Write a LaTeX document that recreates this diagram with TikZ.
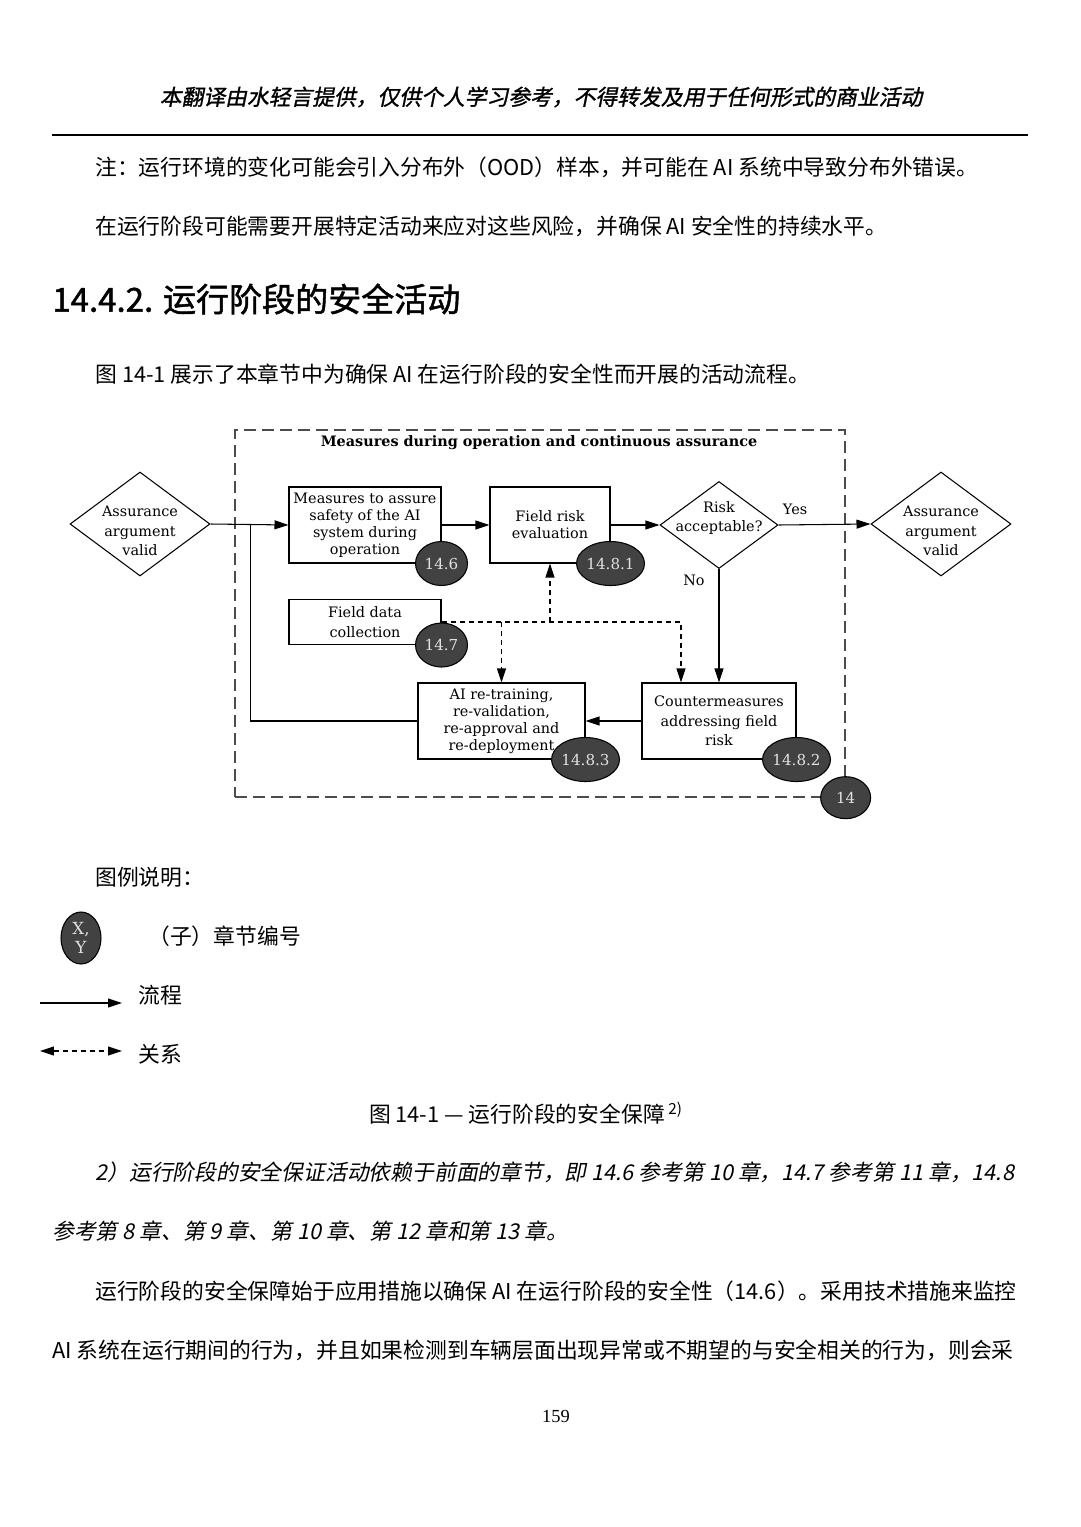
\documentclass[tikz,border=0pt]{standalone}
\usepackage{fontspec}
\setmainfont{DejaVu Serif}
\newfontfamily\cjk{Noto Sans CJK SC}
\newfontfamily\cjkbf[FakeBold=1.4]{Noto Sans CJK SC}
\newfontfamily\cjkhead[FakeBold=1.2,FakeSlant=0.2]{Noto Sans CJK SC}
\newfontfamily\cjkit[FakeSlant=0.2]{Noto Sans CJK SC}
\newfontfamily\pagefont{Liberation Serif}
\usetikzlibrary{arrows.meta, shapes, calc, positioning}
\newcommand\figfont{\fontsize{8.2}{9.7}\selectfont}
\newcommand\bodyfont{\fontsize{12.4}{14}\selectfont}

\begin{document}
\begin{tikzpicture}[x=0.02cm, y=-0.02cm,
    box/.style={draw, line width=0.6pt, align=center, font=\figfont, inner sep=1pt, minimum height=15.2mm},
    decision/.style={draw, diamond, line width=0.6pt, inner sep=0pt},
    dtext/.style={align=center, font=\fontsize{8.2}{11}\selectfont},
    badge/.style={draw, ellipse, fill=black!74, text=black!12, font=\fontsize{8.6}{10}\selectfont, inner sep=0pt, minimum width=10.4mm, minimum height=8.8mm, line width=0.6pt},
    flow/.style={line width=0.6pt, -{Triangle[length=2.8mm,width=1.8mm]}},
    rel/.style={flow, dash pattern=on 1mm off 0.8mm},
    frame/.style={draw=black!70, line width=0.8pt, dash pattern=on 2.4mm off 1.2mm},
    body/.style={font=\bodyfont\cjk, anchor=west, inner sep=0pt}]
  \useasboundingbox[fill=white] (0,0) rectangle (1080,1527);

  % page head
  \node[font=\bodyfont\cjkhead, inner sep=0pt] (head) at (541,97) {本翻译由水轻言提供，仅供个人学习参考，不得转发及用于任何形式的商业活动};
  \draw[line width=0.7pt] (52,135) -- (1028,135);
  \node[body] (note1) at (95,167) {注：运行环境的变化可能会引入分布外（OOD）样本，并可能在 AI 系统中导致分布外错误。};
  \node[body] (note2) at (95,226) {在运行阶段可能需要开展特定活动来应对这些风险，并确保 AI 安全性的持续水平。};
  \node[body, font=\fontsize{18.8}{21}\selectfont\cjkbf] (sec) at (52,299) {14.4.2. 运行阶段的安全活动};
  \node[body] (intro) at (95,374) {图 14-1 展示了本章节中为确保 AI 在运行阶段的安全性而开展的活动流程。};

  % dashed frame
  \node[frame, minimum width=122mm, minimum height=73.4mm, inner sep=0pt] (frame) at (540,613.5) {};
  \node[font=\figfont\bfseries] (ftitle) at (539,443) {Measures during operation and continuous assurance};

  % boxes and decisions
  \node[decision, minimum width=28mm, minimum height=20.8mm,
    label={[dtext, yshift=-1.4mm]center:Assurance\\argument\\valid}] (avL) at (140,524) {};
  \node[decision, minimum width=28mm, minimum height=20.8mm,
    label={[dtext, yshift=-1.4mm]center:Assurance\\argument\\valid}] (avR) at (941,524) {};
  \node[box, minimum width=30.4mm] (msa) at (365,525) {Measures to assure\\safety of the AI\\system during\\operation};
  \node[box, minimum width=24mm] (fre) at (550,525) {Field risk\\evaluation};
  \node[decision, minimum width=23.6mm, minimum height=17.4mm,
    label={[dtext, yshift=1.4mm]center:Risk\\acceptable?}] (risk) at (719,525) {};
  \node[box, minimum width=30.4mm, minimum height=9mm, font=\fontsize{8.2}{11}\selectfont] (fdc) at (365,622) {Field data\\collection};
  \node[box, minimum width=33.4mm] (ai) at (501.5,721) {AI re-training,\\re-validation,\\re-approval and\\re-deployment};
  \node[box, minimum width=30.8mm, font=\fontsize{8.2}{11}\selectfont] (cm) at (719,721) {Countermeasures\\addressing field\\risk};

  % flow
  \path (avL.east) ++(40,0) coordinate (j1);
  \draw[flow] (avL.east) -- (msa.west);
  \draw[line width=0.6pt] (ai.west) -| (j1);
  \draw[flow] (msa) -- (fre);
  \draw[flow] (fre) -- (risk);
  \draw[flow] (risk.east) -- node[pos=0.18, above=2pt, font=\figfont] (yes) {Yes} (avR.west);
  \draw[flow] (risk.south) -- node[pos=0.1, left=1.6mm, font=\figfont] (no) {No} (cm.north);
  \draw[flow] (cm) -- (ai);

  % relations
  \coordinate (d1) at ($(cm.north)+(-38,0)$);
  \draw[rel] (fdc.east) -| (d1);
  \draw[rel] (fdc.east -| fre.south) -- (fre.south);
  \draw[rel] (fdc.east -| ai.north) -- (ai.north);

  % section badges
  \foreach \n/\b/\t in {msa/b1/14.6, fre/b2/14.8.1, fdc/b3/14.7, ai/b4/14.8.3, cm/b5/14.8.2} {
      \node[badge] (\b) at (\n.south east) {\t};
    }
  \node[badge, minimum width=10mm, minimum height=8.4mm] (b14) at (frame.south east) {14};

  % legend
  \node[body] (legend) at (95,877) {图例说明：};
  \node[badge, minimum width=8mm, minimum height=10.4mm, align=center, font=\fontsize{9.5}{11}\selectfont] (lkey) at (81,938) {X,\\Y};
  \node[body] (lkeyt) at (148,936) {（子）章节编号};
  \coordinate (fa) at (40,1003);
  \coordinate (fb) at (122,1003);
  \draw[flow] (fa) -- (fb);
  \node[body] (lflow) at (138,995) {流程};
  \coordinate (ra) at (40,1051);
  \coordinate (rb) at (122,1051);
  \draw[rel, {Triangle[length=2.8mm,width=1.8mm]}-{Triangle[length=2.8mm,width=1.8mm]}] (ra) -- (rb);
  \node[body] (lrel) at (138,1054) {关系};

  % caption and text below
  \node[font=\bodyfont\cjk, inner sep=0pt] (cap) at (526,1113) {图 14-1 — 运行阶段的安全保障\,\textsuperscript{2)}};
  \node[body, font=\bodyfont\cjkit] (fn1) at (95,1172) {2）运行阶段的安全保证活动依赖于前面的章节，即 14.6 参考第 10 章，14.7 参考第 11 章，14.8};
  \node[body, font=\bodyfont\cjkit] (fn2) at (52,1231) {参考第 8 章、第 9 章、第 10 章、第 12 章和第 13 章。};
  \node[body] (par1) at (95,1291) {运行阶段的安全保障始于应用措施以确保 AI 在运行阶段的安全性（14.6）。采用技术措施来监控};
  \node[body] (par2) at (52,1350) {AI 系统在运行期间的行为，并且如果检测到车辆层面出现异常或不期望的与安全相关的行为，则会采};
  \node[font=\fontsize{10.5}{12}\selectfont\pagefont] (page) at (556,1416) {159};
\end{tikzpicture}
\end{document}
